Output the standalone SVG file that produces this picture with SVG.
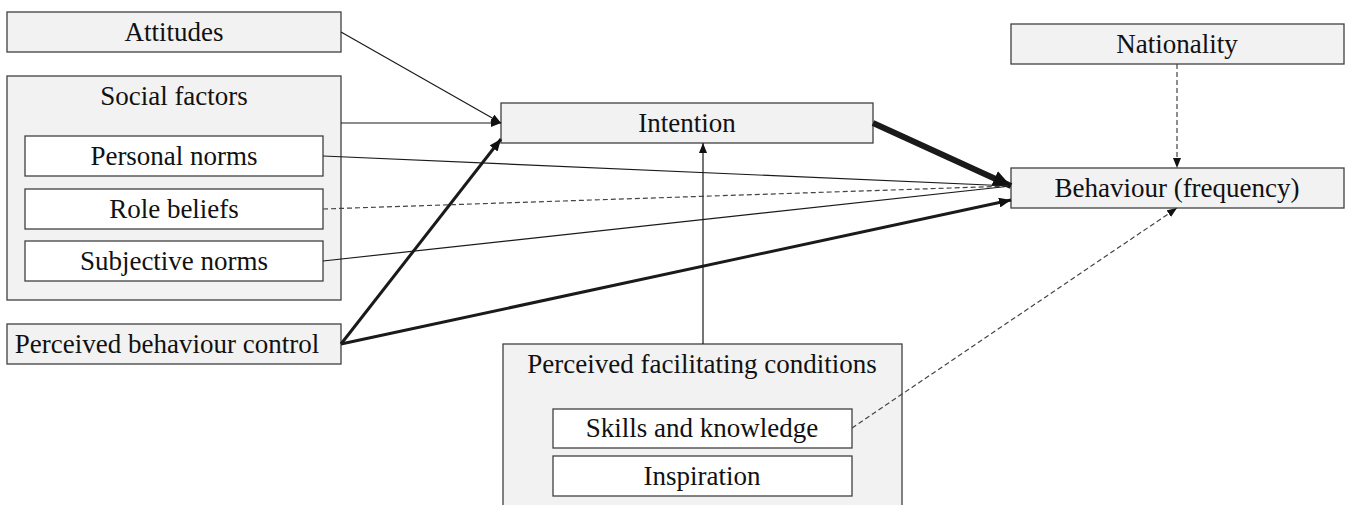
<svg xmlns="http://www.w3.org/2000/svg" width="1347" height="505" viewBox="0 0 1347 505">
<style>
.box{fill:#f2f2f2;stroke:#404040;stroke-width:1.3}
.inner{fill:#ffffff;stroke:#404040;stroke-width:1.3}
text{font-family:"Liberation Serif","Times New Roman","DejaVu Serif",serif;font-size:27px;fill:#111;text-anchor:middle}
.c{fill:none;stroke:#1a1a1a}
.thin{stroke-width:1.2}
.dash{stroke-width:1.2;stroke-dasharray:5 3;stroke:#444}
.thick{stroke-width:3}
.heavy{stroke-width:6}
</style>
<defs>
<marker id="a" markerUnits="userSpaceOnUse" viewBox="0 0 10 8" refX="10" refY="4" markerWidth="10" markerHeight="8" orient="auto"><path d="M0,0 L10,4 L0,8 z" fill="#111"/></marker>
<marker id="ab" markerUnits="userSpaceOnUse" viewBox="0 0 12 10" refX="12" refY="5" markerWidth="12" markerHeight="10" orient="auto"><path d="M0,0 L12,5 L0,10 z" fill="#111"/></marker>
<marker id="ah" markerUnits="userSpaceOnUse" viewBox="0 0 18 16" refX="18" refY="8" markerWidth="18" markerHeight="16" orient="auto"><path d="M0,0 L18,8 L0,16 z" fill="#111"/></marker>
</defs>
<g id="attitudes"><rect class="box" x="7" y="12" width="334" height="40"/><text x="174" y="41">Attitudes</text></g>
<g id="social-factors"><rect class="box" x="7" y="76" width="334" height="224"/><text x="174" y="105">Social factors</text></g>
<g id="personal-norms"><rect class="inner" x="25" y="136" width="298" height="40"/><text x="174" y="165">Personal norms</text></g>
<g id="role-beliefs"><rect class="inner" x="25" y="189" width="298" height="40"/><text x="174" y="218">Role beliefs</text></g>
<g id="subjective-norms"><rect class="inner" x="25" y="241" width="298" height="40"/><text x="174" y="270">Subjective norms</text></g>
<g id="pbc"><rect class="box" x="7" y="324" width="334" height="40"/><text x="167" y="353">Perceived behaviour control</text></g>
<g id="intention"><rect class="box" x="501" y="103" width="372" height="40"/><text x="687" y="132">Intention</text></g>
<g id="nationality"><rect class="box" x="1011" y="24" width="333" height="40"/><text x="1177" y="53">Nationality</text></g>
<g id="behaviour"><rect class="box" x="1011" y="168" width="333" height="40"/><text x="1177" y="197">Behaviour (frequency)</text></g>
<g id="pfc"><rect class="box" x="503" y="344" width="399" height="170"/><text x="702" y="373">Perceived facilitating conditions</text></g>
<g id="skills"><rect class="inner" x="553" y="409" width="299" height="39"/><text x="702" y="437">Skills and knowledge</text></g>
<g id="inspiration"><rect class="inner" x="553" y="456" width="299" height="40"/><text x="702" y="485">Inspiration</text></g>
<g id="connectors">
<line class="c thin" x1="341" y1="32" x2="501" y2="123" marker-end="url(#a)"/>
<line class="c thin" x1="341" y1="123" x2="501" y2="123" marker-end="url(#a)"/>
<line class="c thick" x1="341" y1="344" x2="501" y2="139" marker-end="url(#ab)"/>
<line class="c thick" x1="341" y1="344" x2="1011" y2="200" marker-end="url(#ab)"/>
<line class="c heavy" x1="873" y1="123" x2="1011" y2="186" marker-end="url(#ah)"/>
<line class="c thin" x1="323" y1="156" x2="1011" y2="186"/>
<line class="c dash" x1="323" y1="209" x2="1011" y2="186"/>
<line class="c thin" x1="323" y1="261" x2="1011" y2="186"/>
<line class="c thin" x1="703" y1="344" x2="703" y2="143" marker-end="url(#a)"/>
<line class="c dash" x1="1177" y1="64" x2="1177" y2="168" marker-end="url(#a)"/>
<line class="c dash" x1="852" y1="428" x2="1177" y2="208" marker-end="url(#a)"/>
</g>
</svg>
